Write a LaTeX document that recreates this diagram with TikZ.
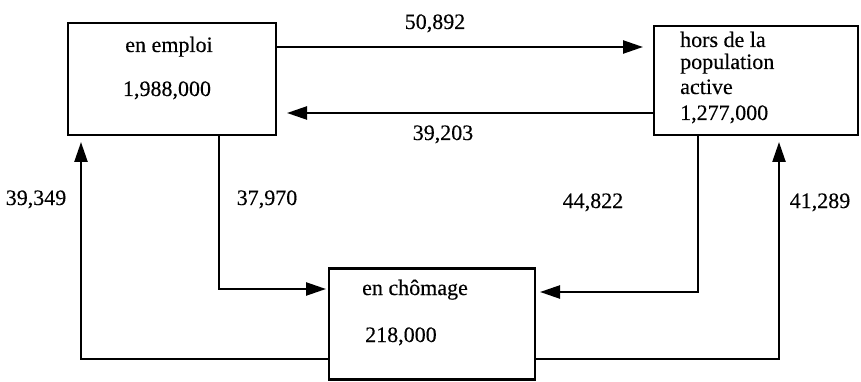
\documentclass[tikz,border=0pt]{standalone}
\usepackage{fontspec}
\setmainfont[FakeBold=0.3]{Liberation Serif}
\usetikzlibrary{arrows.meta}
\begin{document}
\begin{tikzpicture}[x=1pt,y=-1pt,
  box/.style={draw,line width=2.6pt,rectangle,inner sep=0pt},
  arr/.style={line width=2.4pt,-{Triangle[length=20pt,width=13pt]}},
  txt/.style={anchor=base,inner sep=0pt,font=\fontsize{22}{26}\selectfont},
  ltxt/.style={anchor=base west,inner sep=0pt,font=\fontsize{22}{26}\selectfont}]
\useasboundingbox (0,0) rectangle (861,382);
% boxes
\node[box,minimum width=208pt,minimum height=112pt] (emp) at (172,79) {};
\node[box,minimum width=204pt,minimum height=109pt] (hors) at (756,80.5) {};
\node[box,minimum width=206pt,minimum height=111pt] (cho) at (432,324) {};
% box texts
\node[txt] (empA) at (169,52) {en emploi};
\node[txt] (empB) at (167,96) {1,988,000};
\node[ltxt] (horsA) at (680,47) {hors de la};
\node[ltxt] (horsB) at (680,69) {population};
\node[ltxt] (horsC) at (680,94) {active};
\node[ltxt] (horsD) at (680,120) {1,277,000};
\node[ltxt] (choA) at (362,295) {en chômage};
\node[ltxt] (choB) at (365,342) {218,000};
% coordinates
\coordinate (t1) at (643,47);
\coordinate (t2) at (287,113);
\coordinate (c3) at (219,289);
\coordinate (t3) at (326,289);
\coordinate (c4) at (81,359);
\coordinate (t4) at (81,142);
\coordinate (c5) at (698,292);
\coordinate (t5) at (540,292);
\coordinate (c6) at (779,359);
\coordinate (t6) at (779,142);
% arrows
\draw[arr] (emp.east |- t1) -- (t1);
\draw[arr] (hors.west |- t2) -- (t2);
\draw[arr] (emp.south -| c3) -- (c3) -- (t3);
\draw[arr] (cho.west |- c4) -- (c4) -- (t4);
\draw[arr] (hors.south -| c5) -- (c5) -- (t5);
\draw[arr] (cho.east |- c6) -- (c6) -- (t6);
% flow labels
\node[txt] (l1) at (435,29) {50,892};
\node[txt] (l2) at (443,140) {39,203};
\node[txt] (l3) at (267,205) {37,970};
\node[txt] (l4) at (36,205) {39,349};
\node[txt] (l5) at (593,208) {44,822};
\node[txt] (l6) at (820,208) {41,289};
\end{tikzpicture}
\end{document}
